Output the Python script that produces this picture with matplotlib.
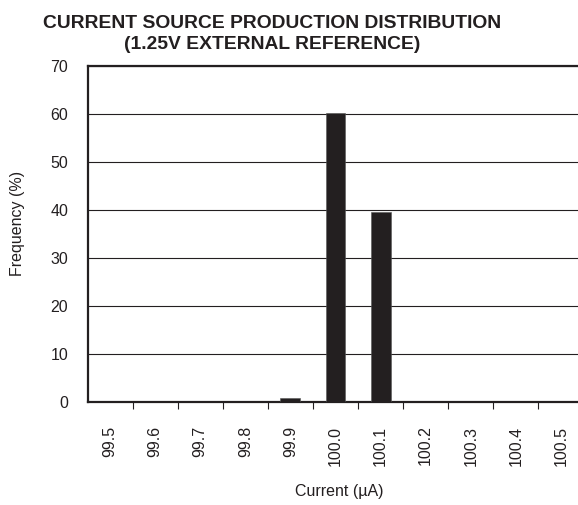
import matplotlib.pyplot as plt
import numpy as np

plt.rcParams['font.family'] = ['Liberation Sans', 'DejaVu Sans']

# current bins (uA) and share of parts in each bin (%)
current = ['99.5', '99.6', '99.7', '99.8', '99.9', '100.0',
           '100.1', '100.2', '100.3', '100.4', '100.5']
frequency = [0, 0, 0, 0, 0.8, 60.3, 39.5, 0, 0, 0, 0]

ink = '#231f20'

fig = plt.figure(figsize=(5.78, 5.05), dpi=100)
# the right end of the plot is cut off by the figure edge, as in the original
ax = fig.add_axes([87.5 / 578, 103 / 505, 496 / 578, 336 / 505])

x = np.arange(len(current))
ax.bar(x, frequency, width=0.44, color=ink, edgecolor='#555555', linewidth=0.4, zorder=3)

ax.set_xlim(-0.5, len(current) - 0.5)
ax.set_ylim(0, 70)
ax.set_yticks(np.arange(0, 71, 10))
ax.yaxis.grid(True, color=ink, linewidth=0.8, zorder=1)
ax.tick_params(axis='y', length=0, pad=14, labelsize=11.5, labelcolor=ink)

# labels in bin centres, tick marks on bin edges
ax.set_xticks(x)
ax.set_xticklabels(current, rotation=90)
ax.tick_params(axis='x', which='major', length=0, pad=17, labelsize=11.5, labelcolor=ink)
ax.set_xticks(np.arange(0.5, len(current) - 1, 1), minor=True)
ax.tick_params(axis='x', which='minor', length=5, width=0.8, direction='out', color=ink)

for side in ['left', 'bottom', 'top']:
    ax.spines[side].set_linewidth(1.6)
    ax.spines[side].set_color(ink)
ax.spines['right'].set_visible(False)

ax.set_ylabel('Frequency (%)', fontsize=11.5, color=ink)
ax.yaxis.set_label_coords(-0.125, 0.53)
ax.set_xlabel('Current (µA)', fontsize=11.5, color=ink, labelpad=9)
ax.xaxis.set_label_coords(0.508, -0.245)

fig.text(272 / 578, 1 - 34 / 505, 'CURRENT SOURCE PRODUCTION DISTRIBUTION\n(1.25V EXTERNAL REFERENCE)',
         ha='center', va='center', fontsize=13.9, fontweight='bold', color=ink, linespacing=1.38)

fig.savefig('out.png', dpi=100)
